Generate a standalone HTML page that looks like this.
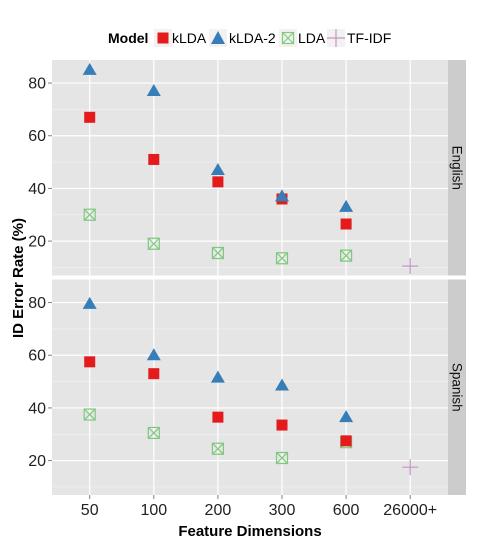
<!DOCTYPE html>
<html><head><meta charset="utf-8"><style>
body{margin:0;background:#fff;}
svg{display:block;font-family:"Liberation Sans",Arial,sans-serif;}
</style></head><body>
<svg id="chart" width="480" height="540" viewBox="0 0 480 540" xmlns="http://www.w3.org/2000/svg">
<g id="legend">
<text x="108" y="43" font-size="14" font-weight="bold" fill="#000">Model</text>
<rect x="154" y="29" width="18" height="18" fill="#f2f2f2"/>
<rect x="157.5" y="32.5" width="11" height="11" fill="#e41a1c"/>
<text x="172" y="43" font-size="14" fill="#000">kLDA</text>
<rect x="209" y="29" width="18" height="18" fill="#f2f2f2"/>
<polygon points="218,31 225,44 211,44" fill="#377eb8"/>
<text x="229" y="43" font-size="14" fill="#000">kLDA-2</text>
<rect x="279" y="29" width="18" height="18" fill="#f2f2f2"/>
<g stroke="#7fc97f" stroke-width="1.2" fill="none"><rect x="282.5" y="32.5" width="11" height="11"/><path d="M282.5 32.5L293.5 43.5M293.5 32.5L282.5 43.5"/></g>
<text x="298" y="43" font-size="14" fill="#000">LDA</text>
<rect x="327" y="29" width="18" height="18" fill="#f2f2f2"/>
<path d="M327 38H345M336 29V47" stroke="#c994c7" stroke-width="1.2"/>
<text x="347" y="43" font-size="14" fill="#000">TF-IDF</text>
</g>
<g id="panels"></g>
<text transform="translate(23,278) rotate(-90)" text-anchor="middle" font-size="15" font-weight="bold" fill="#000">ID Error Rate (%)</text>
<text x="250" y="536" text-anchor="middle" font-size="15" font-weight="bold" fill="#000">Feature Dimensions</text>
</svg>
<script>
const categories = ["50","100","200","300","600","26000+"];
const facets = ["English","Spanish"];
const yTicks = [20,40,60,80];
const kldaEnglish = [67,51,42.5,36,26.5];
const klda2English = [85,77,47,37,33];
const ldaEnglish = [30,19,15.5,13.5,14.5];
const tfidfEnglish = [10.5];
const kldaSpanish = [57.5,53,36.5,33.5,27.5];
const klda2Spanish = [79.5,60,51.5,48.5,36.5];
const ldaSpanish = [37.5,30.5,24.5,21,27];
const tfidfSpanish = [17.5];

const NS = "http://www.w3.org/2000/svg";
const root = document.getElementById('panels');
function mk(tag, attrs, parent){const e=document.createElementNS(NS,tag);for(const k in attrs)e.setAttribute(k,attrs[k]);(parent||root).appendChild(e);return e;}
const xL=52, xR=448, step=64.1, x0=89.7;
const x = i => x0 + i*step;
const yMin=6.95, yMax=88.75;
const panelTops=[60,279.5], panelH=215.5;
const data = [
 {klda:kldaEnglish,klda2:klda2English,lda:ldaEnglish,tf:tfidfEnglish},
 {klda:kldaSpanish,klda2:klda2Spanish,lda:ldaSpanish,tf:tfidfSpanish}
];
facets.forEach((f,p)=>{
  const top=panelTops[p];
  const y = v => top + (yMax - v)/(yMax-yMin)*panelH;
  const g = mk('g',{});
  
  
  const bg=mk('rect',{x:xL,y:top,width:xR-xL,height:panelH,fill:'#e5e5e5'},g);
  
  
  for(let v=10; v<=90; v+=20){ if(y(v)>top && y(v)<top+panelH){const l=mk('line',{x1:xL,x2:xR,y1:y(v),y2:y(v),stroke:'#f2f2f2','stroke-width':0.6},g);
    
    }}
  yTicks.forEach(t=>{
    const l=mk('line',{x1:xL,x2:xR,y1:y(t),y2:y(t),stroke:'#fff','stroke-width':1.2},g);
    
    
    const tk=mk('line',{x1:xL-4,x2:xL,y1:y(t),y2:y(t),stroke:'#7f7f7f','stroke-width':1},g);
    
    
    const tx=mk('text',{x:xL-6,y:y(t)+5.5,'text-anchor':'end','font-size':16,fill:'#222'},g);
    tx.textContent=t;
    
    
  });
  categories.forEach((c,i)=>{
    const l=mk('line',{x1:x(i),x2:x(i),y1:top,y2:top+panelH,stroke:'#fff','stroke-width':1.2},g);
    
    
  });
  const st=mk('rect',{x:448,y:top,width:18,height:panelH,fill:'#cccccc'},g);
  
  
  const sy=top+panelH/2;
  const stx=mk('text',{transform:`translate(452.5,${sy}) rotate(90)`,'text-anchor':'middle','font-size':13.5,fill:'#111'},g);
  stx.textContent=f;
  
  
  const d=data[p];
  d.lda.forEach((v,i)=>{
    const cx=x(i),cy=y(v);
    const m=mk('path',{d:`M${cx-5.5} ${cy-5.5}h11v11h-11zM${cx-5.5} ${cy-5.5}L${cx+5.5} ${cy+5.5}M${cx+5.5} ${cy-5.5}L${cx-5.5} ${cy+5.5}`,stroke:'#7fc97f','stroke-width':1.2,fill:'none'},g);
    
    
  });
  d.klda.forEach((v,i)=>{
    const m=mk('rect',{x:x(i)-5.5,y:y(v)-5.5,width:11,height:11,fill:'#e41a1c'},g);
    
    
  });
  d.klda2.forEach((v,i)=>{
    const cx=x(i),cy=y(v);
    const m=mk('polygon',{points:`${cx},${cy-7} ${cx+7},${cy+5} ${cx-7},${cy+5}`,fill:'#377eb8'},g);
    
    
  });
  d.tf.forEach((v,i)=>{
    const cx=x(5+i),cy=y(v);
    const m=mk('path',{d:`M${cx-8} ${cy}H${cx+8}M${cx} ${cy-8}V${cy+8}`,stroke:'#c994c7','stroke-width':1.2},g);
    
    
  });
});
const bottom=panelTops[1]+panelH;
categories.forEach((c,i)=>{
  const tk=mk('line',{x1:x(i),x2:x(i),y1:bottom,y2:bottom+4,stroke:'#7f7f7f','stroke-width':1});
  
  
  const t=mk('text',{x:x(i),y:bottom+20,'text-anchor':'middle','font-size':16,fill:'#222'});
  t.textContent=c;
  
  
});
</script>
</body></html>
